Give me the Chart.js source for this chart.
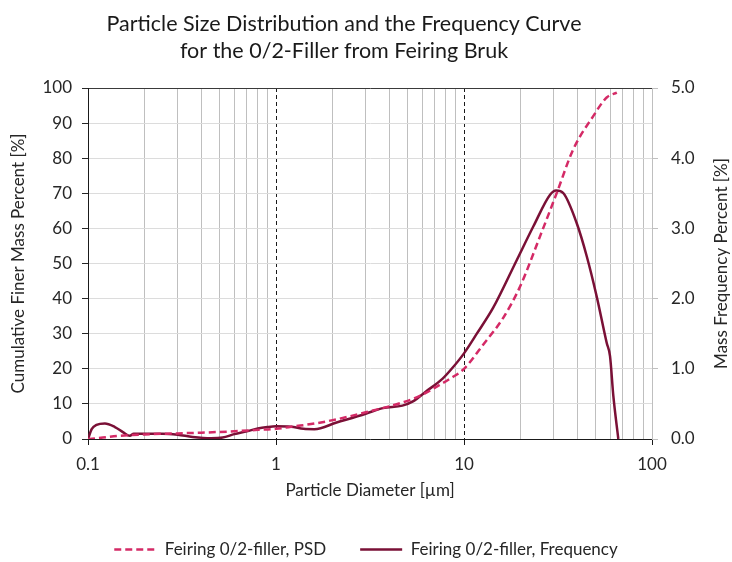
<!DOCTYPE html>
<html>
<head>
<meta charset="utf-8">
<script src="https://cdn.jsdelivr.net/npm/chart.js@4"></script>
<style>
  html, body { margin: 0; padding: 0; background: #ffffff; }
  #wrap { width: 732px; height: 562px; }
</style>
</head>
<body>
<div id="wrap"><canvas id="psd" width="732" height="562"></canvas></div>
<script>
// Cumulative particle size distribution (left axis, %)
const psdDiameter = [0.1, 0.105, 0.12, 0.145, 0.2, 0.3, 0.4, 0.6, 0.8, 1.0, 1.25, 1.6, 2.1, 3.0, 4.0, 4.7, 5.4, 6.3, 7.2, 8.5, 10, 12.7, 16.2, 19.9, 25.4, 31.1, 38.1, 48.7, 57.4, 65];
const psdPercent  = [0, 0.1, 0.4, 0.9, 1.3, 1.6, 1.8, 2.2, 2.6, 2.9, 3.6, 4.4, 5.6, 7.6, 9.3, 10.4, 11.5, 13.2, 15.0, 17.3, 20.0, 27.0, 34.6, 43.5, 57.8, 70.0, 82.5, 92.0, 97.3, 98.7];

// Mass frequency curve (right axis, %)
const freqDiameter = [0.1, 0.1046, 0.111, 0.123, 0.139, 0.154, 0.167, 0.175, 0.2, 0.25, 0.3, 0.36, 0.45, 0.52, 0.6, 0.7, 0.8, 0.9, 1.0, 1.2, 1.4, 1.6, 2.1, 3.0, 3.7, 4.7, 5.35, 6.3, 7.7, 8.6, 10, 11.7, 14.3, 19.1, 23.4, 28.7, 30.9, 33.8, 39.7, 45, 50.8, 57.4, 59.8, 62.3, 66.2];
const freqPercent  = [0, 0.14, 0.20, 0.22, 0.17, 0.095, 0.045, 0.075, 0.075, 0.075, 0.06, 0.03, 0.012, 0.02, 0.07, 0.11, 0.15, 0.17, 0.18, 0.175, 0.145, 0.14, 0.235, 0.36, 0.44, 0.475, 0.535, 0.68, 0.86, 1.0, 1.22, 1.5, 1.87, 2.55, 3.03, 3.48, 3.54, 3.5, 3.08, 2.6, 2.03, 1.37, 1.18, 0.61, 0];

// Axis ticks
const xDecades = [0.1, 1, 10, 100];
const xDecadeLabels = ['0.1', '1', '10', '100'];
const leftTicks = [0, 10, 20, 30, 40, 50, 60, 70, 80, 90, 100];
const rightTicks = [0, 1, 2, 3, 4, 5];

// Text
const titleLines = ['Particle Size Distribution and the Frequency Curve', 'for the 0/2-Filler from Feiring Bruk'];
const seriesNames = ['Feiring 0/2-filler, PSD', 'Feiring 0/2-filler, Frequency'];
const xTitle = 'Particle Diameter [\u00b5m]';
const leftTitle = 'Cumulative Finer Mass Percent [%]';
const rightTitle = 'Mass Frequency Percent [%]';

const FONT = 'Lato, "Open Sans", "Liberation Sans", sans-serif';
const TEXT = '#262626';
const PSD_COLOR = '#d42a66';
const FREQ_COLOR = '#7a1036';
const MINOR_GRID = '#bfbfbf';
const HORIZ_GRID = '#dcdcdc';

Chart.defaults.font.family = FONT;
Chart.defaults.color = TEXT;

// Log-axis gridlines: 1..9 within each decade, plus the final decade
const xGridValues = [];
xDecades.slice(0, -1).forEach(d => { for (let k = 1; k <= 9; k++) xGridValues.push(+(d * k).toPrecision(6)); });
xGridValues.push(xDecades[xDecades.length - 1]);

const decadeIndex = v => xDecades.findIndex(d => Math.abs(d - v) < 1e-9);

const captions = {
  id: 'captions',
  afterDraw(chart) {
    const { ctx, chartArea } = chart;
    ctx.save();
    ctx.fillStyle = '#1a1a1a';
    ctx.textAlign = 'center';
    ctx.textBaseline = 'alphabetic';
    ctx.font = '21.5px ' + FONT;
    titleLines.forEach((t, i) => ctx.fillText(t, 344, 31 + i * 27));
    ctx.fillStyle = TEXT;
    ctx.font = '17px ' + FONT;
    ctx.textBaseline = 'middle';
    ctx.translate(722, (chartArea.top + chartArea.bottom) / 2);
    ctx.rotate(-Math.PI / 2);
    ctx.fillText(rightTitle, 0, 0);
    ctx.restore();
  }
};

new Chart(document.getElementById('psd'), {
  type: 'line',
  data: {
    datasets: [
      {
        label: seriesNames[0],
        data: psdDiameter.map((d, i) => ({ x: d, y: psdPercent[i] })),
        xAxisID: 'x', yAxisID: 'y',
        borderColor: PSD_COLOR, backgroundColor: PSD_COLOR,
        borderWidth: 2.5, borderDash: [7, 4],
        pointRadius: 0, fill: false,
        cubicInterpolationMode: 'monotone'
      },
      {
        label: seriesNames[1],
        data: freqDiameter.map((d, i) => ({ x: d, y: freqPercent[i] })),
        xAxisID: 'x', yAxisID: 'y1',
        borderColor: FREQ_COLOR, backgroundColor: FREQ_COLOR,
        borderWidth: 2.5,
        pointRadius: 0, fill: false,
        cubicInterpolationMode: 'monotone'
      }
    ]
  },
  options: {
    responsive: false,
    animation: false,
    devicePixelRatio: 1,
    layout: { padding: { top: 88, bottom: -6, left: 0, right: 0 } },
    plugins: {
      title: { display: false },
      tooltip: { enabled: false },
      legend: {
        position: 'bottom',
        labels: { boxWidth: 42, boxHeight: 0, padding: 34, color: TEXT, font: { size: 17 } }
      }
    },
    scales: {
      x: {
        type: 'logarithmic',
        position: 'bottom',
        min: xDecades[0], max: xDecades[xDecades.length - 1],
        afterBuildTicks: s => { s.ticks = xGridValues.map(v => ({ value: v, major: decadeIndex(v) >= 0 })); },
        afterFit: s => { s.height = 68; },
        ticks: {
          autoSkip: false, maxRotation: 0, padding: 9,
          color: TEXT, font: { size: 17 },
          callback: v => { const i = decadeIndex(v); return i >= 0 ? xDecadeLabels[i] : ''; }
        },
        grid: {
          color: c => {
            const v = c.tick ? c.tick.value : 0;
            const i = decadeIndex(v);
            if (i === 0) return 'rgba(0,0,0,0)';
            if (i === 1 || i === 2) return '#1a1a1a';
            return MINOR_GRID;
          },
          lineWidth: 1,
          tickLength: 6,
          tickColor: c => (c.tick && decadeIndex(c.tick.value) >= 0) ? '#1a1a1a' : 'rgba(0,0,0,0)'
        },
        border: {
          color: '#1a1a1a', width: 1,
          dash: c => {
            if (!c.tick) return [];
            const i = decadeIndex(c.tick.value);
            return (i === 1 || i === 2) ? [4, 3] : [];
          }
        },
        title: { display: true, text: xTitle, color: TEXT, font: { size: 17 }, padding: { top: 0, bottom: 6 } }
      },
      xTop: {
        type: 'logarithmic',
        position: 'top',
        min: xDecades[0], max: xDecades[xDecades.length - 1],
        afterFit: s => { s.height = 0; },
        ticks: { display: false },
        grid: { drawOnChartArea: false, drawTicks: false },
        border: { color: '#3a3a3a', width: 1 }
      },
      y: {
        type: 'linear',
        position: 'left',
        min: leftTicks[0], max: leftTicks[leftTicks.length - 1],
        afterBuildTicks: s => { s.ticks = leftTicks.map(v => ({ value: v })); },
        afterFit: s => { s.width = 88; },
        ticks: { padding: 10, color: TEXT, font: { size: 17 } },
        grid: { color: HORIZ_GRID, lineWidth: 1, tickLength: 6, tickColor: '#262626' },
        border: { color: '#1a1a1a', width: 1 },
        title: { display: true, text: leftTitle, color: TEXT, font: { size: 17 }, padding: { top: 8, bottom: 0 } }
      },
      y1: {
        type: 'linear',
        position: 'right',
        min: rightTicks[0], max: rightTicks[rightTicks.length - 1],
        afterBuildTicks: s => { s.ticks = rightTicks.map(v => ({ value: v })); },
        afterFit: s => { s.width = 80; },
        ticks: { padding: 13, color: TEXT, font: { size: 17 }, callback: v => v.toFixed(1) },
        grid: { drawOnChartArea: false, tickLength: 6, tickColor: MINOR_GRID },
        border: { color: MINOR_GRID, width: 1 }
      }
    }
  },
  plugins: [captions]
});
</script>
</body>
</html>
